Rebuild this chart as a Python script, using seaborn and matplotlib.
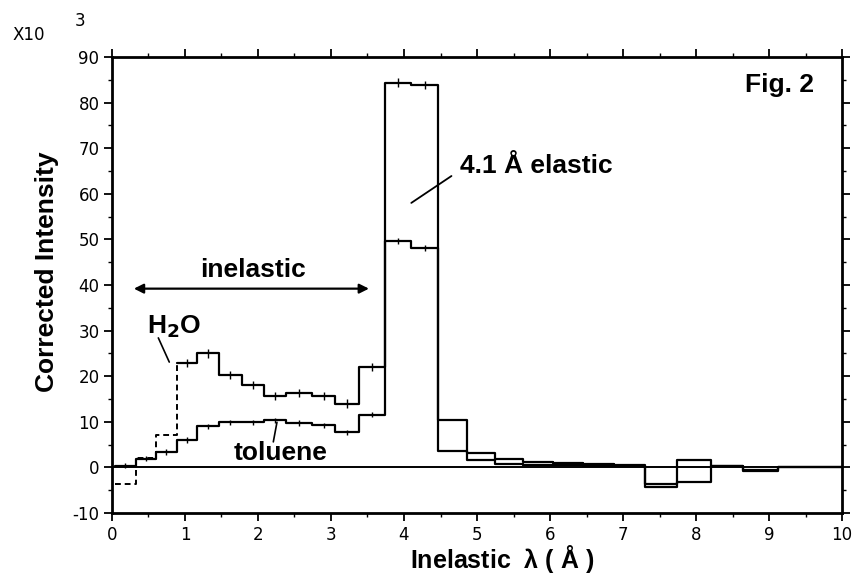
import numpy as np
import pandas as pd
import matplotlib
matplotlib.use("Agg")
import matplotlib.pyplot as plt
import seaborn as sns
from matplotlib.ticker import MultipleLocator

# ---- data ----
bin_edges = [0.04, 0.33, 0.60, 0.886, 1.17, 1.46, 1.78, 2.08, 2.39, 2.74, 3.06, 3.39,
             3.74, 4.10, 4.47, 4.86, 5.24, 5.63, 6.04, 6.45, 6.87, 7.30, 7.74, 8.21,
             8.64, 9.12, 10.0]
h2o = [-3.7, 2.0, 7.0, 22.9, 25.0, 20.2, 18.1, 15.6, 16.3, 15.6, 14.0, 22.0,
       84.4, 83.8, 10.5, 3.1, 1.9, 1.2, 0.9, 0.8, 0.6, -3.7, 1.6, 0.3, -0.8, 0.0]
toluene = [0.4, 1.9, 3.4, 6.0, 9.0, 9.9, 9.9, 10.3, 9.7, 9.2, 7.7, 11.6,
           49.6, 48.1, 3.6, 1.7, 0.8, 0.6, 0.5, 0.4, 0.3, -4.4, -3.1, 0.2, -0.5, 0.0]
x_ticks = [0, 1, 2, 3, 4, 5, 6, 7, 8, 9, 10]
y_ticks = [-10, 0, 10, 20, 30, 40, 50, 60, 70, 80, 90]

sns.set_theme(style="white")
plt.rcParams['font.family'] = ['Liberation Sans', 'DejaVu Sans']
plt.rcParams['text.color'] = 'black'
plt.rcParams['axes.labelcolor'] = 'black'
plt.rcParams['xtick.color'] = 'black'
plt.rcParams['ytick.color'] = 'black'

fig = plt.figure(figsize=(8.58, 5.75), dpi=100)
ax = fig.add_axes([0.1305, 0.1078, 0.8509, 0.7931])

def step_df(vals):
    return pd.DataFrame({"x": bin_edges, "y": list(vals) + [vals[-1]]})

# H2O: faint (dashed) at shortest wavelengths, solid afterwards
dh = step_df(h2o)
sns.lineplot(data=dh.iloc[:4], x="x", y="y", ax=ax, drawstyle="steps-post",
             color="black", lw=1.4, linestyle=(0, (3, 2)), estimator=None, sort=False)
sns.lineplot(data=dh.iloc[3:], x="x", y="y", ax=ax, drawstyle="steps-post",
             color="black", lw=1.6, estimator=None, sort=False)
sns.lineplot(data=step_df(toluene), x="x", y="y", ax=ax, drawstyle="steps-post",
             color="black", lw=1.6, estimator=None, sort=False)

# small error ticks at bin centres
centers = [(a + b) / 2 for a, b in zip(bin_edges[:-1], bin_edges[1:])]
ax.errorbar(centers[3:14], h2o[3:14], yerr=0.9, fmt="none", ecolor="black", elinewidth=1)
ax.errorbar(centers[:14], toluene[:14], yerr=0.6, fmt="none", ecolor="black", elinewidth=1)

ax.axhline(0, color="black", lw=1.4)

ax.set_xlim(0, 10)
ax.set_ylim(-10, 90)
ax.set_xticks(x_ticks)
ax.set_yticks(y_ticks)
ax.set_xticklabels([str(t) for t in x_ticks], fontsize=12, family="DejaVu Sans")
ax.set_yticklabels([str(t) for t in y_ticks], fontsize=12, family="DejaVu Sans")
ax.xaxis.set_minor_locator(MultipleLocator(0.5))
ax.yaxis.set_minor_locator(MultipleLocator(5))
ax.tick_params(which="both", direction="out", color="black", labelcolor="black",
               top=True, right=True, bottom=True, left=True,
               labeltop=False, labelright=False)
ax.tick_params(which="major", length=6, width=1.3, pad=3)
ax.tick_params(which="minor", length=3, width=1.0)
for s in ax.spines.values():
    s.set_color("black")
    s.set_linewidth(2.0)

ax.set_xlabel("Inelastic  $\\mathregular{\\lambda}$ ( Å )", fontsize=18, fontweight="bold",
              color="black")
ax.xaxis.set_label_coords(0.535, -0.101)
ax.xaxis.label.set_va("center")
ax.set_ylabel("Corrected Intensity", fontsize=19, fontweight="bold", color="black")
ax.yaxis.set_label_coords(-0.089, 0.53)
ax.yaxis.label.set_va("center")

fig.text(0.015, 0.939, "X10", fontsize=12, family="DejaVu Sans", ha="left", va="center",
         color="black")
fig.text(0.093, 0.963, "3", fontsize=12, family="DejaVu Sans", ha="center", va="center",
         color="black")

ax.text(8.67, 82.3, "Fig. 2", fontsize=19, fontweight="bold", ha="left", va="baseline")
ax.text(4.77, 64.5, "4.1 Å elastic", fontsize=19, fontweight="bold", ha="left", va="baseline")
ax.plot([4.10, 4.65], [58.0, 63.9], color="black", lw=1.3)
ax.text(1.205, 41.7, "inelastic", fontsize=19, fontweight="bold", ha="left", va="baseline")
ax.annotate("", xy=(0.30, 39.2), xytext=(3.52, 39.2),
            arrowprops=dict(arrowstyle="<|-|>", color="black", lw=1.6,
                            mutation_scale=14, shrinkA=0, shrinkB=0))
ax.text(0.475, 29.4, "H$_\\mathbf{2}$O", fontsize=19, fontweight="bold", ha="left", va="baseline")
ax.plot([0.635, 0.785], [28.4, 23.1], color="black", lw=1.2)
ax.text(1.66, 1.6, "toluene", fontsize=19, fontweight="bold", ha="left", va="baseline")
ax.plot([2.21, 2.26], [5.6, 9.9], color="black", lw=1.2)

fig.savefig("out.png", dpi=100)
